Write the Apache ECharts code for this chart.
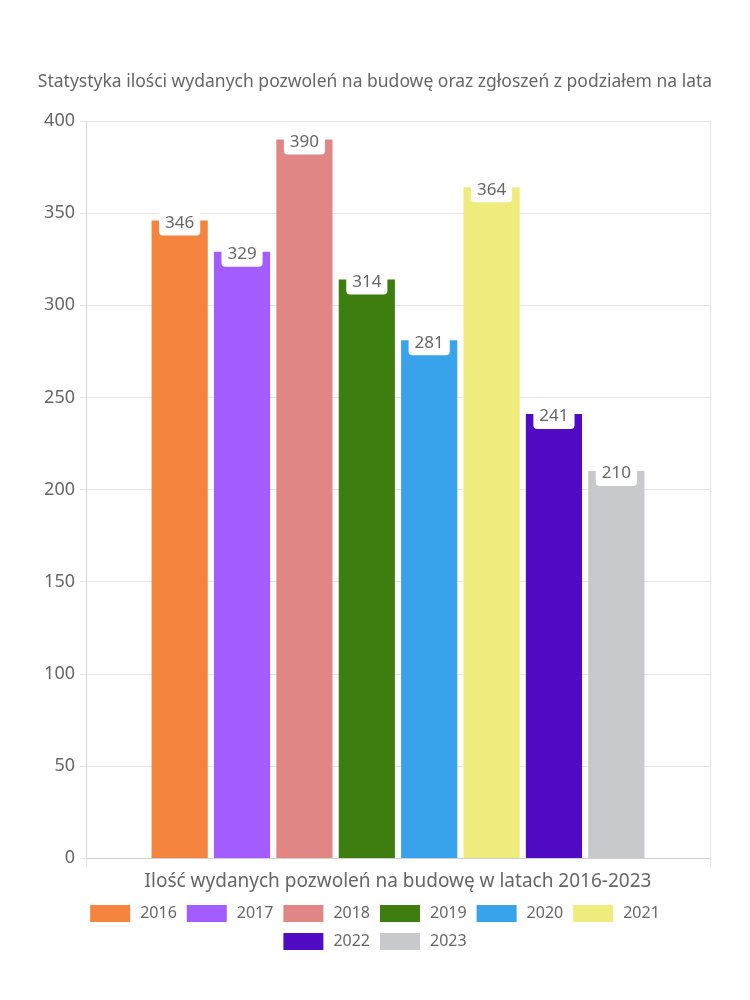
<!DOCTYPE html>
<html>
<head>
<meta charset="utf-8">
<script src="https://cdn.jsdelivr.net/npm/echarts@6/dist/echarts.min.js"></script>
<style>
html,body{margin:0;padding:0;background:#fff;}
#chart{width:750px;height:1000px;}
</style>
</head>
<body>
<div id="chart"></div>
<script>
const titleText = 'Statystyka ilości wydanych pozwoleń na budowę oraz zgłoszeń z podziałem na lata';
const axisTitle = 'Ilość wydanych pozwoleń na budowę w latach 2016-2023';
const categories = [''];
const years = ['2016','2017','2018','2019','2020','2021','2022','2023'];
const values = [346, 329, 390, 314, 281, 364, 241, 210];
const colors = ['#F5843F','#A25CFF','#E18585','#3E7D0F','#38A3EB','#F0EB7D','#510BC4','#C8C9CD'];

const FONT = 'Noto Sans';
const TXT = '#666';

const series = years.map((y, i) => ({
  name: y,
  type: 'bar',
  data: [values[i]],
  barWidth: 56.2,
  barGap: '11%',
  itemStyle: { color: colors[i] },
  label: {
    show: true,
    position: 'insideTop',
    distance: 0,
    offset: [0, -10],
    color: TXT,
    fontFamily: FONT,
    fontSize: 17,
    backgroundColor: '#fff',
    padding: [4, 6, 4, 6],
    borderRadius: [0, 0, 4, 4]
  }
}));

const legendCommon = {
  left: 'center',
  itemWidth: 40,
  itemHeight: 17,
  itemGap: 10,
  icon: 'rect',
  textStyle: { color: TXT, fontFamily: FONT, fontSize: 16, padding: [0, 0, 0, 5] }
};

const chart = echarts.init(document.getElementById('chart'));
chart.setOption({
  animation: false,
  backgroundColor: '#fff',
  color: colors,
  title: {
    text: titleText,
    left: 'center',
    top: 68,
    textStyle: { color: TXT, fontFamily: FONT, fontSize: 17.5, fontWeight: 'normal' }
  },
  legend: [
    Object.assign({ data: years.slice(0, 6), top: 900 }, legendCommon),
    Object.assign({ data: years.slice(6), top: 928 }, legendCommon)
  ],
  grid: { left: 86, right: 40, top: 121, bottom: 142, containLabel: false },
  xAxis: {
    type: 'category',
    data: categories,
    name: axisTitle,
    nameLocation: 'middle',
    nameGap: 14,
    nameTextStyle: { color: TXT, fontFamily: FONT, fontSize: 19 },
    axisLine: { show: true, lineStyle: { color: '#cfcfcf' } },
    axisTick: { show: true, length: 9, lineStyle: { color: '#e4e4e4' } },
    axisLabel: { show: false },
    splitLine: { show: true, lineStyle: { color: '#e4e4e4' } }
  },
  yAxis: {
    type: 'value',
    min: 0,
    max: 400,
    interval: 50,
    axisLine: { show: true, lineStyle: { color: '#d6d6d6' } },
    axisTick: { show: true, length: 6, lineStyle: { color: '#e4e4e4' } },
    axisLabel: { color: TXT, fontFamily: FONT, fontSize: 18, margin: 11 },
    splitLine: { show: true, lineStyle: { color: '#e4e4e4' } }
  },
  series: series
});
</script>
</body>
</html>
